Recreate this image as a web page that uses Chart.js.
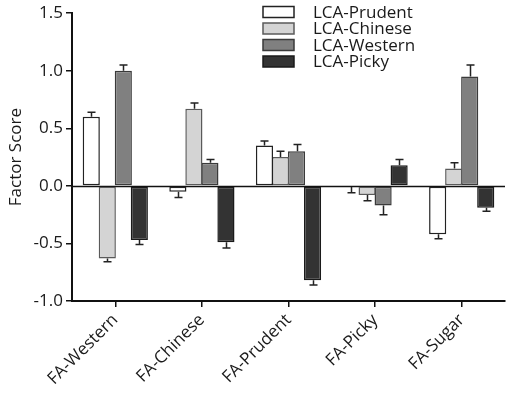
<!DOCTYPE html>
<html>
<head>
<meta charset="utf-8">
<script src="https://cdn.jsdelivr.net/npm/chart.js@4/dist/chart.umd.min.js"></script>
<style>
html,body{margin:0;padding:0;background:#fff;}
#wrap{width:510px;height:398px;position:relative;}
</style>
</head>
<body>
<div id="wrap"><canvas id="c" width="510" height="398"></canvas></div>
<script>
const categories = ["FA-Western", "FA-Chinese", "FA-Prudent", "FA-Picky", "FA-Sugar"];
const seriesNames = ["LCA-Prudent", "LCA-Chinese", "LCA-Western", "LCA-Picky"];
const prudentVals = [0.60, -0.05, 0.35, -0.01, -0.42];
const chineseVals = [-0.63, 0.67, 0.25, -0.08, 0.15];
const westernVals = [1.00, 0.20, 0.30, -0.17, 0.95];
const pickyVals   = [-0.47, -0.49, -0.82, 0.18, -0.19];
const prudentErr = [0.04, 0.05, 0.04, 0.05, 0.04];
const chineseErr = [0.03, 0.05, 0.05, 0.05, 0.05];
const westernErr = [0.05, 0.03, 0.06, 0.08, 0.10];
const pickyErr   = [0.04, 0.05, 0.04, 0.05, 0.03];
const yTicks = [-1.0, -0.5, 0.0, 0.5, 1.0, 1.5];

const fills = ["#ffffff", "#d4d4d4", "#808080", "#333333"];
const borders = ["#222222", "#5a5a5a", "#3a3a3a", "#1a1a1a"];
const vals = [prudentVals, chineseVals, westernVals, pickyVals];
const errs = [prudentErr, chineseErr, westernErr, pickyErr];

const FONT = "'Open Sans', 'Noto Sans', sans-serif";

const datasets = seriesNames.map((n, i) => ({
  label: n,
  data: vals[i],
  errors: errs[i],
  backgroundColor: fills[i],
  borderColor: borders[i],
  borderWidth: 1.5,
  borderSkipped: false,
  categoryPercentage: 0.74,
  barPercentage: 1.07
}));

const helpers = {
  id: 'helpers',
  beforeDatasetsDraw(chart) {
    const ctx = chart.ctx, y = chart.scales.y, a = chart.chartArea;
    const py = Math.round(y.getPixelForValue(0)) + 0.5;
    ctx.save();
    ctx.strokeStyle = '#111';
    ctx.lineWidth = 1.5;
    ctx.beginPath();
    ctx.moveTo(a.left, py);
    ctx.lineTo(a.right, py);
    ctx.stroke();
    ctx.restore();
  },
  afterDatasetsDraw(chart) {
    const ctx = chart.ctx, ys = chart.scales.y;
    ctx.save();
    ctx.strokeStyle = '#222';
    ctx.lineWidth = 1.5;
    chart.data.datasets.forEach((ds, di) => {
      const meta = chart.getDatasetMeta(di);
      meta.data.forEach((el, i) => {
        const v = ds.data[i], e = ds.errors[i];
        const end = v + (v >= 0 ? e : -e);
        const y0 = el.y;
        const y1 = ys.getPixelForValue(end);
        const x = Math.round(el.x) + 0.5;
        ctx.beginPath();
        ctx.moveTo(x, y0);
        ctx.lineTo(x, y1);
        ctx.moveTo(x - 4, y1);
        ctx.lineTo(x + 4, y1);
        ctx.stroke();
      });
    });
    ctx.restore();
  },
  afterDraw(chart) {
    const ctx = chart.ctx;
    ctx.save();
    const x0 = 263, bw = 31, bh = 11, tx = 313;
    const rows = [12, 28.5, 45, 61.5];
    ctx.font = "17px " + FONT;
    ctx.textBaseline = 'middle';
    chart.data.datasets.forEach((ds, i) => {
      const cy = rows[i];
      ctx.fillStyle = ds.backgroundColor;
      ctx.fillRect(x0, cy - bh / 2, bw, bh);
      ctx.strokeStyle = ds.borderColor;
      ctx.lineWidth = 1.5;
      ctx.strokeRect(x0, cy - bh / 2, bw, bh);
      ctx.fillStyle = '#1a1a1a';
      ctx.fillText(ds.label, tx, cy + 1);
    });
    ctx.restore();
  }
};

new Chart(document.getElementById('c'), {
  type: 'bar',
  data: { labels: categories, datasets },
  options: {
    responsive: false,
    animation: false,
    layout: { padding: { top: 13, right: 5, left: 0, bottom: 0 } },
    plugins: { legend: { display: false }, tooltip: { enabled: false } },
    scales: {
      x: {
        grid: { display: true, drawOnChartArea: false, offset: false, color: '#111', lineWidth: 1.5, tickLength: 6 },
        border: { display: true, color: '#111', width: 2 },
        ticks: { color: '#1a1a1a', font: { family: FONT, size: 17 }, minRotation: 45, maxRotation: 45, padding: 3 },
        afterFit(s) { s.height = 97; }
      },
      y: {
        min: -1.0, max: 1.5,
        afterBuildTicks(s) { s.ticks = yTicks.map(v => ({ value: v })); },
        grid: { display: true, drawOnChartArea: false, color: '#111', lineWidth: 1.5, tickLength: 6 },
        border: { display: true, color: '#111', width: 2 },
        ticks: { color: '#1a1a1a', font: { family: FONT, size: 17 }, padding: 3, callback: v => v.toFixed(1) },
        title: { display: true, text: 'Factor Score', color: '#1a1a1a', font: { family: FONT, size: 17 }, padding: { top: 6, bottom: 4 } },
        afterFit(s) { s.width = 72; }
      }
    }
  },
  plugins: [helpers]
});
</script>
</body>
</html>
